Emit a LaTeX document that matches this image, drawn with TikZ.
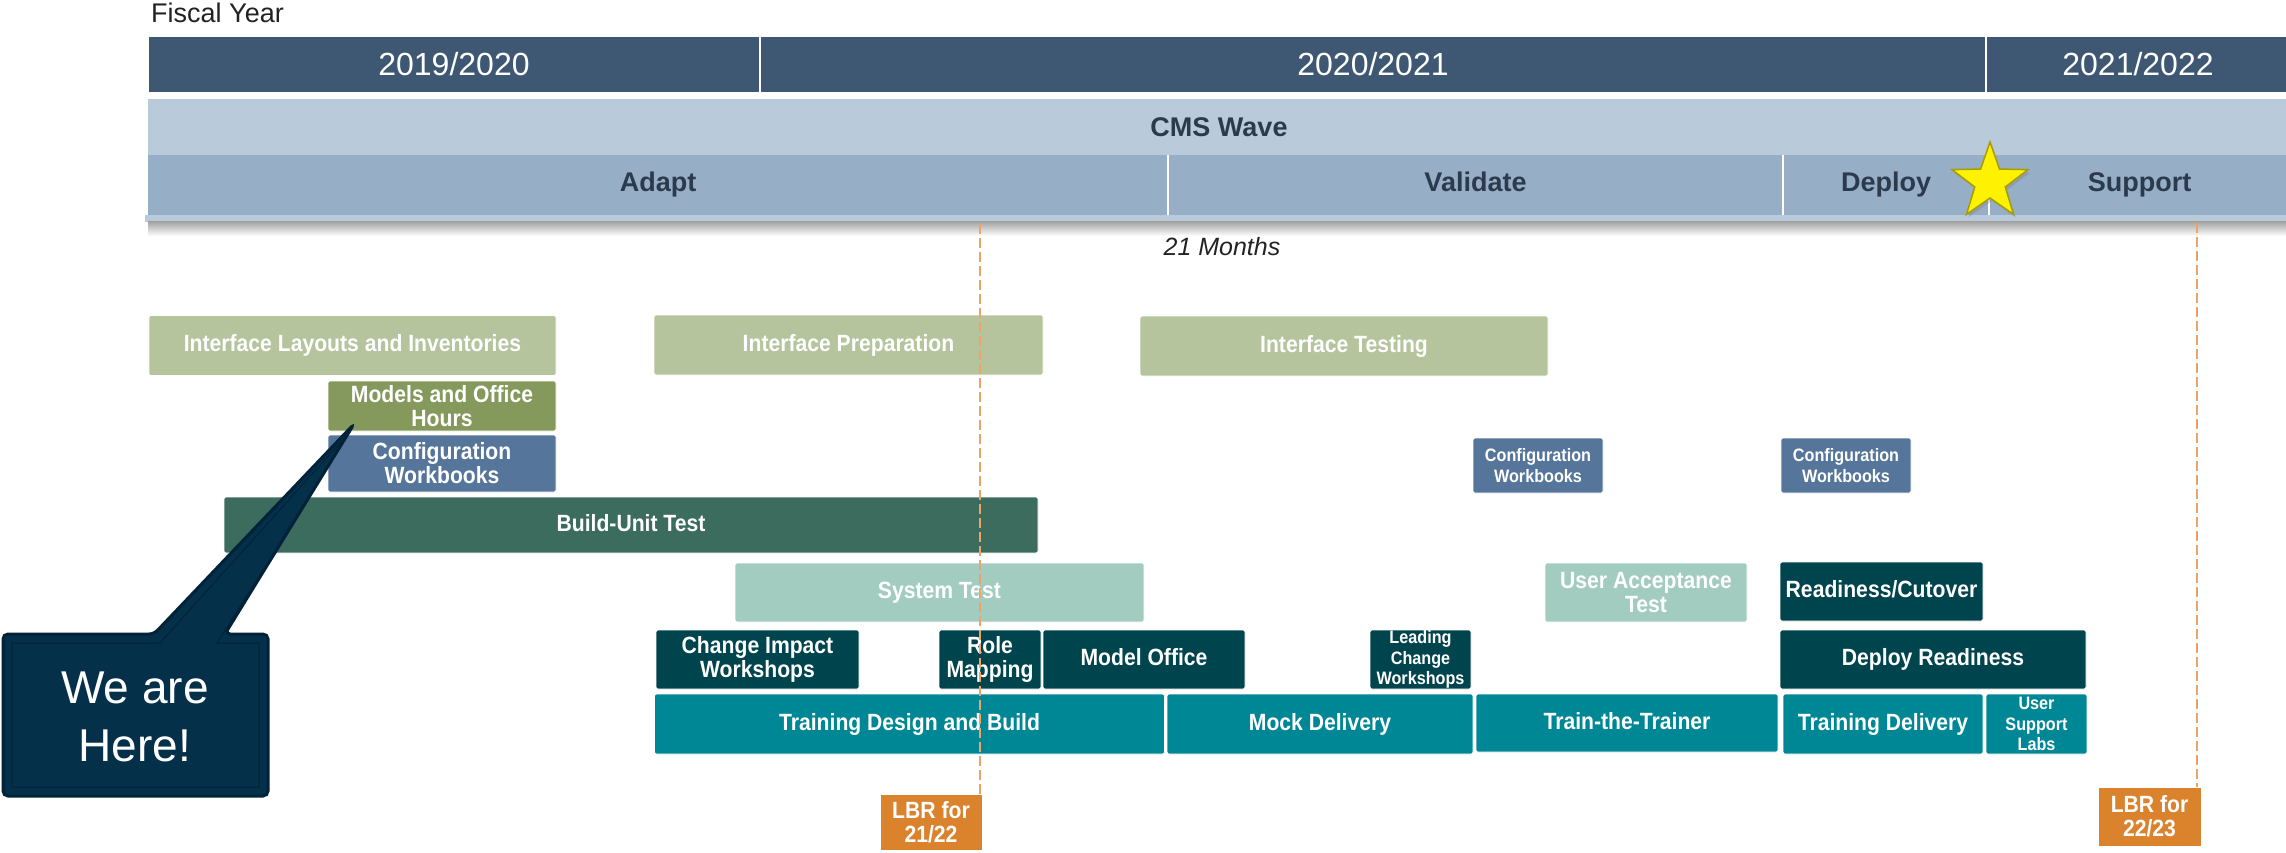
\documentclass[tikz,border=0pt]{standalone}
\usepackage{fontspec}
\setmainfont{Liberation Sans}
\newfontfamily\boxfont[FakeStretch=0.9]{Liberation Sans}
\usetikzlibrary{shapes.geometric, shadows}
\definecolor{textdark}{HTML}{222222}
\definecolor{yearblue}{HTML}{3E5873}
\definecolor{cmsblue}{HTML}{B9CADA}
\definecolor{phaseblue}{HTML}{97AEC7}
\definecolor{phasetext}{HTML}{2B3A4C}
\definecolor{ifgreen}{HTML}{B5C49D}
\definecolor{modgreen}{HTML}{84995B}
\definecolor{cfgblue}{HTML}{55769A}
\definecolor{buildgreen}{HTML}{3B6C5D}
\definecolor{mint}{HTML}{A2CCBF}
\definecolor{darkteal}{HTML}{00454E}
\definecolor{teal}{HTML}{008796}
\definecolor{lbrorange}{HTML}{DA822C}
\definecolor{lbrdash}{HTML}{EFA365}
\definecolor{callfill}{HTML}{05304A}
\definecolor{calledge}{HTML}{02223A}
\definecolor{staredge}{HTML}{A99E00}
\tikzset{
  blk/.style 2 args={rectangle, minimum width=#1pt, minimum height=#2pt, inner sep=0pt,
    draw=white, line width=0.8pt, rounded corners=2pt, text=white, align=center,
    font=\boxfont\bfseries\fontsize{23.5}{24}\selectfont},
  ln/.style={text height=17pt, text depth=5pt},
  sm/.style={font=\boxfont\bfseries\fontsize{18}{20.5}\selectfont},
  yr/.style={rectangle, minimum height=57pt, inner sep=0pt, fill=yearblue, draw=white,
    line width=2pt, text=white, font=\fontsize{32}{36}\selectfont},
  ph/.style={rectangle, minimum height=60pt, inner sep=0pt, fill=phaseblue, text=phasetext,
    text height=20pt, text depth=6pt, font=\bfseries\fontsize{27}{30}\selectfont},
  lbrline/.style={lbrdash, line width=1.6pt, dash pattern=on 10pt off 4pt},
}
\begin{document}
\begin{tikzpicture}[x=1pt, y=-1pt]
  \useasboundingbox (0,0) rectangle (2286,853);
  \node[anchor=base west, inner sep=0pt, text=textdark, font=\fontsize{27}{30}\selectfont] (FY) at (151,23) {Fiscal Year};
  % years
  \node[yr, minimum width=612pt] (Y1) at (454,64.5) {2019/2020};
  \node[yr, minimum width=1226pt] (Y2) at (1373,64.5) {2020/2021};
  \node[yr, minimum width=304pt] (Y3) at (2138,64.5) {2021/2022};
  % wave and phases
  \fill[cmsblue] (145,215) rectangle (2290,222);
  \shade[top color=black!35, bottom color=white] (148,222) rectangle (2290,236);
  \node[rectangle, minimum width=2142pt, minimum height=56pt, inner sep=0pt, fill=cmsblue, text=phasetext,
    font=\bfseries\fontsize{27}{30}\selectfont] (CMS) at (1219,127) {CMS Wave};
  \node[ph, minimum width=1020pt] (AD) at (658,185) {Adapt};
  \node[ph, minimum width=615pt] (VA) at (1475.5,185) {Validate};
  \node[ph, minimum width=206pt] (DE) at (1886,185) {Deploy};
  \node[ph, minimum width=301pt] (SU) at (2139.5,185) {Support};
  \draw[white, line width=2pt] (AD.north east) -- (AD.south east)
    (VA.north east) -- (VA.south east) (DE.north east) -- (DE.south east);
  \node[star, star points=5, star point ratio=2.5, minimum size=80pt, inner sep=0pt, fill=yellow,
    draw=staredge, line width=1.5pt, drop shadow={shadow xshift=2pt, shadow yshift=-3pt, opacity=0.35}] (ST) at (1990,182) {};
  \node[text=textdark, font=\itshape\fontsize{25}{28}\selectfont] (MO) at (1222,247) {21 Months};
  % activities
  \node[blk={407}{60}, ln, fill=ifgreen] (IL) at (352.5,345.5) {Interface Layouts and Inventories};
  \node[blk={389}{60}, ln, fill=ifgreen] (IP) at (848.5,345) {Interface Preparation};
  \node[blk={408}{60}, ln, fill=ifgreen] (IT) at (1344,346) {Interface Testing};
  \node[blk={228}{50}, fill=modgreen] (MH) at (442,406) {Models and Office\\Hours};
  \node[blk={228}{57}, fill=cfgblue] (CW1) at (442,463.5) {Configuration\\Workbooks};
  \node[blk={130}{55}, sm, fill=cfgblue] (CW2) at (1538,465.5) {Configuration\\Workbooks};
  \node[blk={130}{55}, sm, fill=cfgblue] (CW3) at (1846,465.5) {Configuration\\Workbooks};
  \node[blk={814}{56}, ln, fill=buildgreen] (BU) at (631,525) {Build-Unit Test};
  \node[blk={409}{59}, ln, fill=mint] (SY) at (939.5,592.5) {System Test};
  \node[blk={202}{59}, fill=mint] (UA) at (1646,592.5) {User Acceptance\\Test};
  \node[blk={203}{59}, ln, fill=darkteal] (RC) at (1881.5,591.5) {Readiness/Cutover};
  \node[blk={203}{59}, fill=darkteal] (CI) at (757.5,659.5) {Change Impact\\Workshops};
  \node[blk={102}{59}, fill=darkteal] (RM) at (990,659.5) {Role\\Mapping};
  \node[blk={202}{59}, ln, fill=darkteal] (MF) at (1144,659.5) {Model Office};
  \node[blk={101}{59}, sm, fill=darkteal] (LC) at (1420.5,659.5) {Leading\\Change\\Workshops};
  \node[blk={306}{59}, ln, fill=darkteal] (DR) at (1933,659.5) {Deploy Readiness};
  \node[blk={510}{60}, ln, fill=teal] (TD) at (909.5,724) {Training Design and Build};
  \node[blk={306}{60}, ln, fill=teal] (MD) at (1320,724) {Mock Delivery};
  \node[blk={302}{58}, ln, fill=teal] (TT) at (1627,723) {Train-the-Trainer};
  \node[blk={200}{60}, ln, fill=teal] (TR) at (1883,724) {Training Delivery};
  \node[blk={101}{60}, sm, fill=teal] (US) at (2036.5,724) {User\\Support\\Labs};
  \node[blk={102}{56}, fill=lbrorange, rounded corners=0pt] (LA) at (931,822) {LBR for\\21/22};
  \node[blk={103}{59}, fill=lbrorange, rounded corners=0pt] (LB) at (2149.5,816.5) {LBR for\\22/23};
  % budget lines
  \coordinate (LAtop) at (980,224);
  \coordinate (LBtop) at (2197,223);
  \draw[lbrline] (LAtop) -- (LAtop |- LA.north);
  \draw[lbrline] (LBtop) -- (LBtop |- LB.north);
  % callout
  \coordinate (TIP) at (354,424);
  \draw[fill=callfill, draw=calledge, line width=3pt, rounded corners=5pt]
    (3,634) -- (154,634) -- (TIP) -- (225,634) -- (268,634) -- (268,796) -- (3,796) -- cycle;
  \draw[calledge, line width=1pt]
    (12,643) -- (160,643) -- (350,432) -- (217,643) -- (259,643) -- (259,787) -- (12,787) -- cycle;
  \node[text=white, align=center, font=\fontsize{46}{58}\selectfont] (WE) at (135,716.5) {We are\\Here!};
\end{tikzpicture}
\end{document}
